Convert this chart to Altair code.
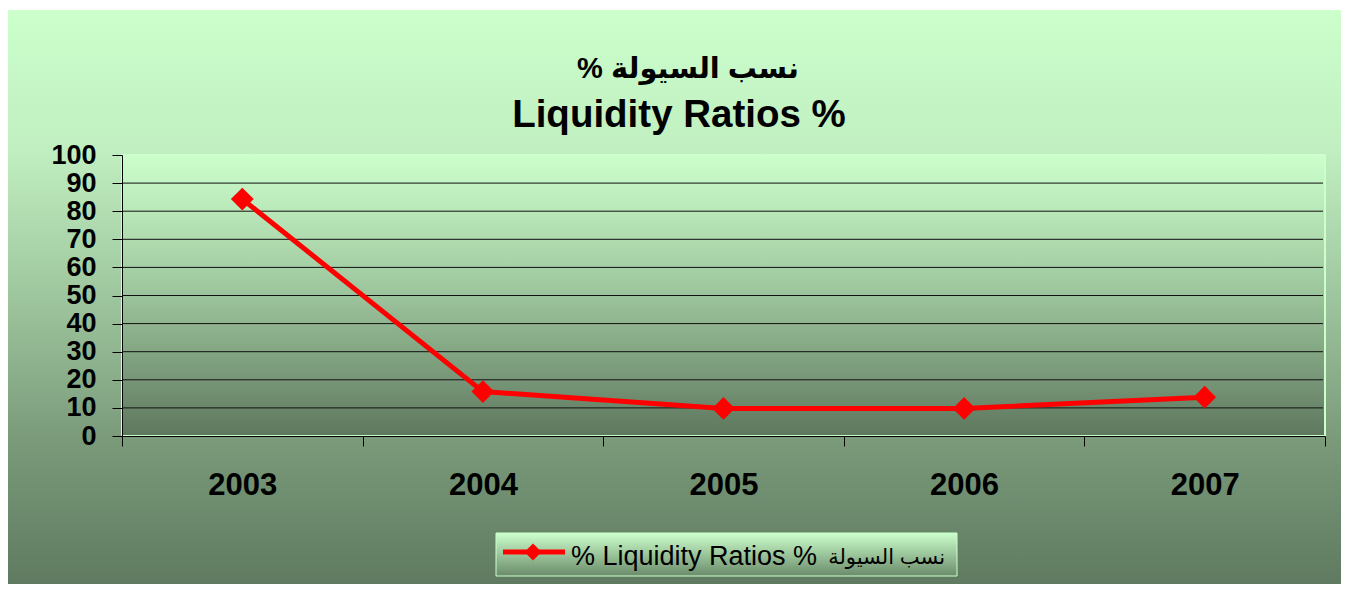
import altair as alt
import pandas as pd

# ---- data ----
years = ["2003", "2004", "2005", "2006", "2007"]
ratios = [84.3, 15.8, 9.8, 9.8, 13.8]
grid_values = [10, 20, 30, 40, 50, 60, 70, 80, 90]
y_ticks = [0, 10, 20, 30, 40, 50, 60, 70, 80, 90, 100]
title_ar = "% نسب السيولة"
title_en = "Liquidity Ratios %"
legend_label_en = "% Liquidity Ratios %"
legend_label_ar = "نسب السيولة"

FONT = "Liberation Sans, Arial, DejaVu Sans"
W, H = 1203, 281

df = pd.DataFrame({"Year": years, "Ratio": ratios})
gdf = pd.DataFrame({"v": grid_values})
one = pd.DataFrame({"a": [0]})

def grad(stops):
    return {"gradient": "linear", "x1": 0, "y1": 0, "x2": 0, "y2": 1,
            "stops": [{"offset": o, "color": c} for o, c in stops]}

outer_fill = grad([(0, "#ccffcc"), (0.25, "#c0eec0"), (0.5, "#9ec69e"),
                   (0.75, "#7a9a7a"), (1, "#5f7a60")])
plot_fill = grad([(0, "#ccffcc"), (0.5, "#9cc49c"), (1, "#5e775e")])
legend_fill = grad([(0, "#ccffcc"), (1, "#6b8b6b")])

y_scale = alt.Scale(domain=[0, 100], nice=False, zero=True)
y_axis = alt.Axis(values=y_ticks, grid=False, title=None, domainColor="black",
                  tickColor="black", tickSize=10, labelPadding=16, labelOverlap=False,
                  labelFont=FONT, labelFontSize=27, labelFontWeight="bold",
                  labelColor="black", zindex=1)
x_axis = alt.Axis(title=None, labelAngle=0, domainColor="black", tickColor="black",
                  tickSize=10, tickBand="extent", labelPadding=24, labelFont=FONT,
                  labelFontSize=31, labelFontWeight="bold", labelColor="black",
                  zindex=1)
x_scale = alt.Scale(paddingInner=0, paddingOuter=0)

outer_bg = alt.Chart(one).mark_rect(fill=outer_fill).encode(
    x=alt.value(-114), x2=alt.value(1219), y=alt.value(-145), y2=alt.value(429))

plot_bg = alt.Chart(one).mark_rect(fill=plot_fill, stroke="#ccffcc", strokeWidth=2).encode(
    x=alt.value(0), x2=alt.value(W), y=alt.value(0), y2=alt.value(H))

grid = alt.Chart(gdf).mark_rule(color="#111111", strokeWidth=1).encode(
    y=alt.Y("v:Q", scale=y_scale, axis=y_axis),
    x=alt.value(0), x2=alt.value(W - 2))

line = alt.Chart(df).mark_line(color="#ff0000", strokeWidth=5).encode(
    x=alt.X("Year:O", scale=x_scale, axis=x_axis, sort=years),
    y=alt.Y("Ratio:Q", scale=y_scale, axis=y_axis))

points = alt.Chart(df).mark_point(shape="diamond", filled=True, size=520,
                                  color="#ff0000", opacity=1).encode(
    x=alt.X("Year:O", scale=x_scale, axis=x_axis, sort=years),
    y=alt.Y("Ratio:Q", scale=y_scale, axis=y_axis))

leg_box = alt.Chart(one).mark_rect(fill=legend_fill, stroke="#ccffcc", strokeWidth=1).encode(
    x=alt.value(374), x2=alt.value(835), y=alt.value(378), y2=alt.value(421))
leg_line = alt.Chart(one).mark_rule(color="#ff0000", strokeWidth=5).encode(
    x=alt.value(381), x2=alt.value(443), y=alt.value(397))
leg_pt = alt.Chart(one).mark_point(shape="diamond", filled=True, size=290,
                                   color="#ff0000", opacity=1).encode(
    x=alt.value(411), y=alt.value(397))
leg_text_en = alt.Chart(pd.DataFrame({"t": [legend_label_en]})).mark_text(
    font=FONT, fontSize=27, color="black", align="left", baseline="alphabetic").encode(
    text="t:N", x=alt.value(449), y=alt.value(410))
leg_text_ar = alt.Chart(pd.DataFrame({"t": [legend_label_ar]})).mark_text(
    font=FONT, fontSize=21, color="black", align="right", baseline="alphabetic").encode(
    text="t:N", x=alt.value(823), y=alt.value(409))

t1 = alt.Chart(pd.DataFrame({"t": [title_ar]})).mark_text(
    font=FONT, fontSize=29, fontWeight="bold", color="black", align="center",
    baseline="alphabetic").encode(text="t:N", x=alt.value(566), y=alt.value(-77))
t2 = alt.Chart(pd.DataFrame({"t": [title_en]})).mark_text(
    font=FONT, fontSize=38.5, fontWeight="bold", color="black", align="center",
    baseline="alphabetic").encode(text="t:N", x=alt.value(557), y=alt.value(-28))

chart = alt.layer(outer_bg, plot_bg, grid, line, points, leg_box, leg_line, leg_pt,
                  leg_text_en, leg_text_ar, t1, t2).properties(
    width=W, height=H,
    padding={"left": 114, "top": 147, "right": 16, "bottom": 148},
    autosize=alt.AutoSizeParams(type="none"),
).configure_view(strokeWidth=0)

chart.save("out.html", embed_options={"renderer": "svg", "actions": False})
